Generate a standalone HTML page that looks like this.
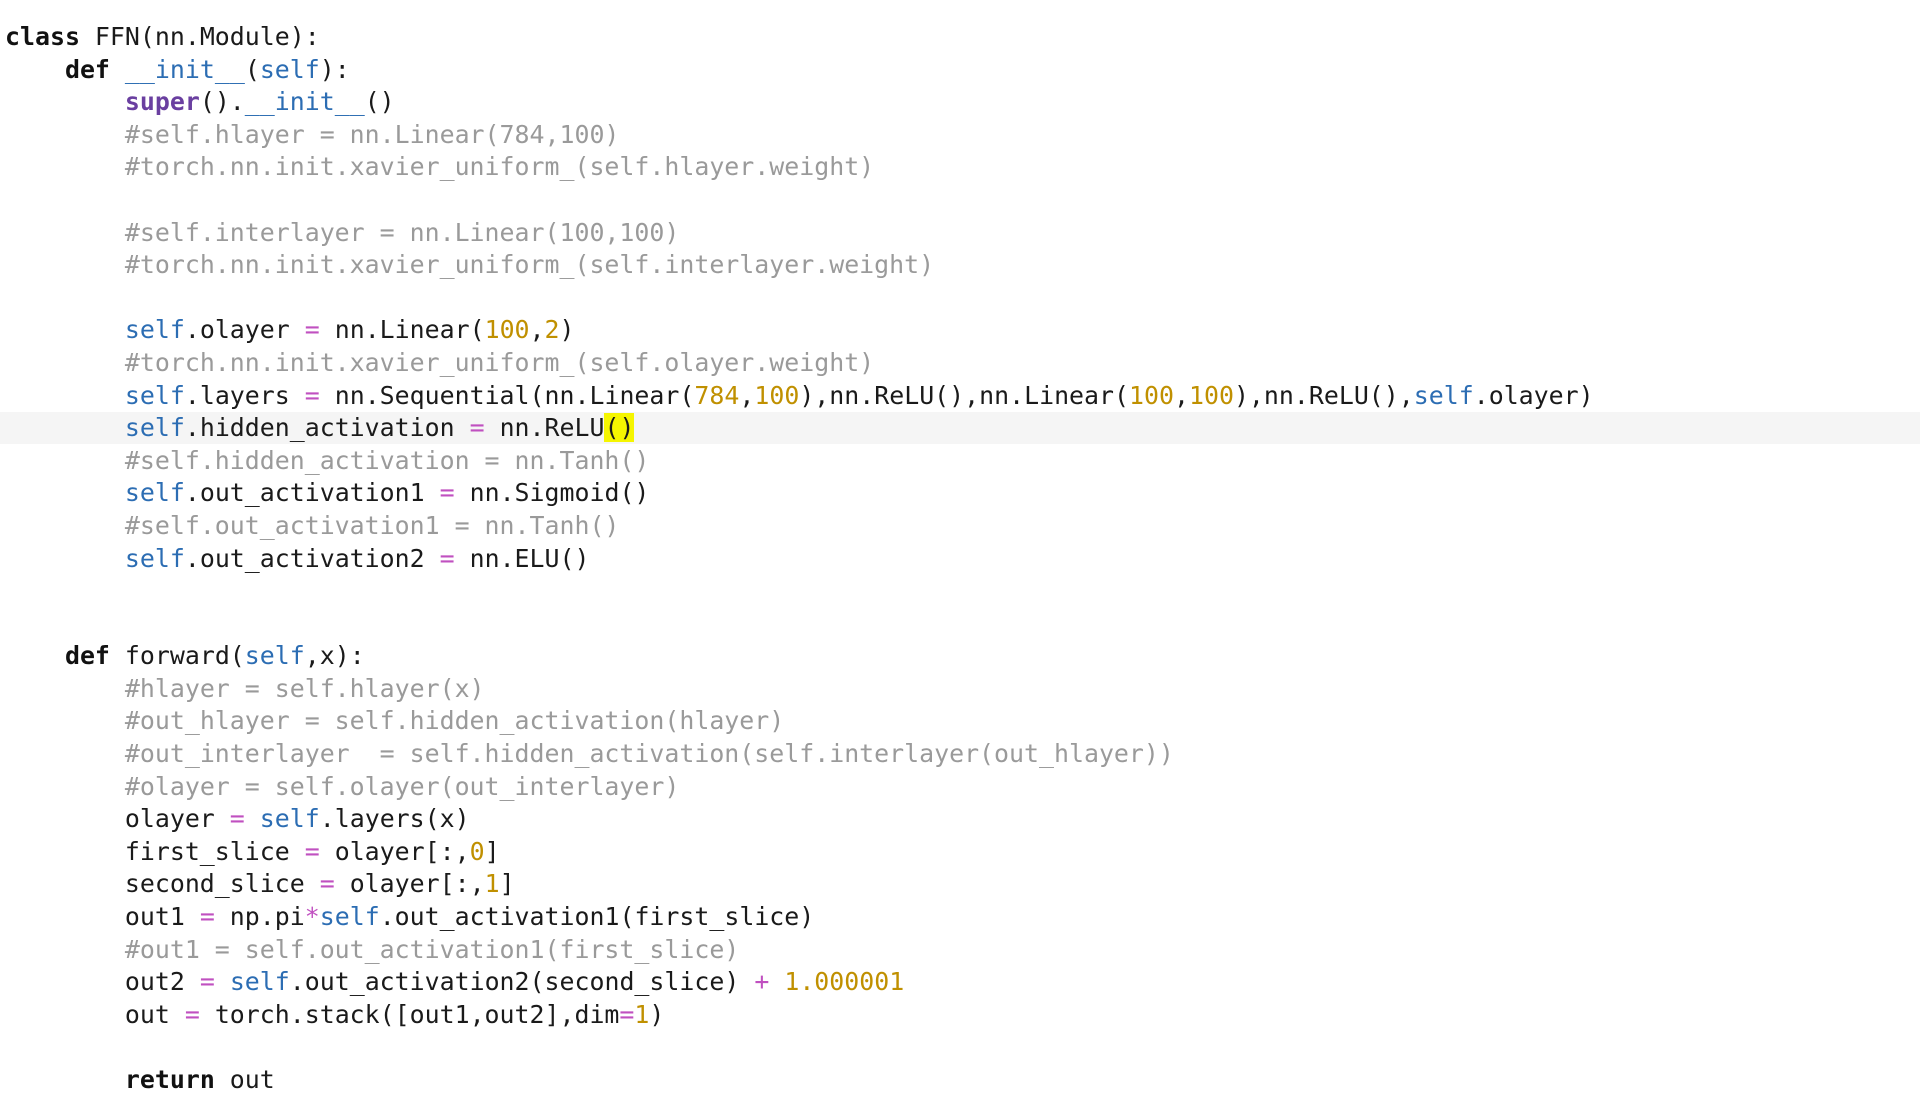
<!DOCTYPE html>
<html><head><meta charset="utf-8"><style>
html,body{margin:0;padding:0;background:#fff;width:1920px;height:1116px;overflow:hidden}
pre{margin:0;position:absolute;left:5px;top:21px;font-family:"DejaVu Sans Mono","Liberation Mono",monospace;font-size:24.9px;line-height:32.6px;color:#1a1a1a}
.hl{position:absolute;left:0;width:1920px;top:412px;height:32px;background:#f5f5f5}
.k{font-weight:bold;color:#111}
.s{color:#2c6db3}
.p{color:#6a3fa0;font-weight:bold}
.c{color:#9a9a9a}
.n{color:#c09000}
.o{color:#c050c0}
.y{background:#f5f500}
</style></head><body>
<div class="hl"></div>
<pre><span class="k">class</span> FFN(nn.Module):
    <span class="k">def</span> <span class="s">__init__</span>(<span class="s">self</span>):
        <span class="p">super</span>().<span class="s">__init__</span>()
        <span class="c">#self.hlayer = nn.Linear(784,100)</span>
        <span class="c">#torch.nn.init.xavier_uniform_(self.hlayer.weight)</span>

        <span class="c">#self.interlayer = nn.Linear(100,100)</span>
        <span class="c">#torch.nn.init.xavier_uniform_(self.interlayer.weight)</span>

        <span class="s">self</span>.olayer <span class="o">=</span> nn.Linear(<span class="n">100</span>,<span class="n">2</span>)
        <span class="c">#torch.nn.init.xavier_uniform_(self.olayer.weight)</span>
        <span class="s">self</span>.layers <span class="o">=</span> nn.Sequential(nn.Linear(<span class="n">784</span>,<span class="n">100</span>),nn.ReLU(),nn.Linear(<span class="n">100</span>,<span class="n">100</span>),nn.ReLU(),<span class="s">self</span>.olayer)
        <span class="s">self</span>.hidden_activation <span class="o">=</span> nn.ReLU<span class="y">()</span>
        <span class="c">#self.hidden_activation = nn.Tanh()</span>
        <span class="s">self</span>.out_activation1 <span class="o">=</span> nn.Sigmoid()
        <span class="c">#self.out_activation1 = nn.Tanh()</span>
        <span class="s">self</span>.out_activation2 <span class="o">=</span> nn.ELU()


    <span class="k">def</span> forward(<span class="s">self</span>,x):
        <span class="c">#hlayer = self.hlayer(x)</span>
        <span class="c">#out_hlayer = self.hidden_activation(hlayer)</span>
        <span class="c">#out_interlayer  = self.hidden_activation(self.interlayer(out_hlayer))</span>
        <span class="c">#olayer = self.olayer(out_interlayer)</span>
        olayer <span class="o">=</span> <span class="s">self</span>.layers(x)
        first_slice <span class="o">=</span> olayer[:,<span class="n">0</span>]
        second_slice <span class="o">=</span> olayer[:,<span class="n">1</span>]
        out1 <span class="o">=</span> np.pi<span class="o">*</span><span class="s">self</span>.out_activation1(first_slice)
        <span class="c">#out1 = self.out_activation1(first_slice)</span>
        out2 <span class="o">=</span> <span class="s">self</span>.out_activation2(second_slice) <span class="o">+</span> <span class="n">1.000001</span>
        out <span class="o">=</span> torch.stack([out1,out2],dim<span class="o">=</span><span class="n">1</span>)

        <span class="k">return</span> out
</pre>
</body></html>
